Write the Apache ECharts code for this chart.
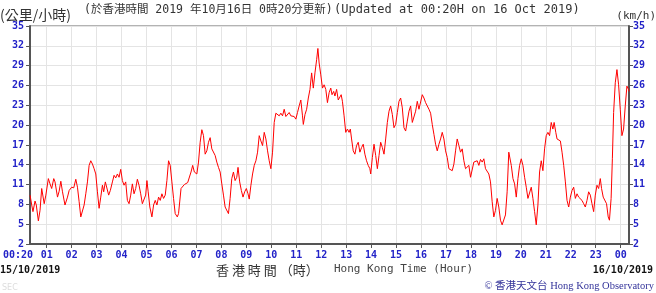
<!DOCTYPE html>
<html>
<head>
<meta charset="utf-8">
<script src="https://cdn.jsdelivr.net/npm/echarts@6/dist/echarts.min.js"></script>
<style>
html,body{margin:0;padding:0;background:#fff;}
#chart{width:656px;height:293px;}
</style>
</head>
<body>
<div id="chart"></div>
<script>
// minutes since 00:00 on 15/10/2019
var timeMin = [20,24,27,32,35,40,44,48,51,54,58,64,68,72,77,80,86,90,94,98,104,110,114,120,125,130,134,138,142,146,150,154,158,162,166,170,174,178,182,186,190,194,197,201,205,209,213,218,222,226,230,234,238,242,246,250,254,258,262,266,270,274,278,282,286,290,294,298,301,304,308,313,317,321,325,329,333,337,341,345,349,353,357,361,365,369,374,377,380,383,387,391,395,399,403,407,411,415,421,425,429,433,437,441,445,449,453,457,461,465,469,473,477,481,485,489,493,497,501,505,509,513,517,520,524,528,532,536,540,544,547,551,555,559,563,567,571,575,579,583,587,591,595,599,603,607,611,615,619,623,627,631,635,639,643,647,651,655,659,663,667,671,675,677,681,685,689,693,697,701,705,709,712,715,719,723,727,731,735,739,743,746,750,753,757,761,765,768,771,775,779,783,787,790,793,797,801,805,809,813,817,821,825,829,833,837,839,843,847,851,855,859,863,867,871,875,879,883,887,891,895,899,903,907,911,915,919,923,927,931,935,939,943,947,951,955,959,963,967,971,975,979,983,987,991,995,999,1003,1007,1011,1015,1019,1023,1027,1031,1035,1039,1043,1047,1051,1055,1059,1063,1067,1071,1075,1079,1083,1087,1091,1095,1099,1103,1107,1111,1115,1119,1123,1127,1131,1135,1139,1143,1147,1151,1155,1159,1163,1167,1171,1173,1177,1181,1185,1189,1193,1197,1201,1205,1209,1213,1217,1221,1225,1229,1233,1237,1241,1245,1249,1253,1257,1261,1265,1269,1273,1277,1280,1284,1287,1291,1295,1299,1303,1307,1311,1315,1319,1323,1327,1331,1335,1339,1343,1347,1351,1355,1359,1363,1367,1371,1375,1379,1383,1387,1391,1394,1398,1402,1406,1410,1413,1417,1420,1423,1427,1431,1435,1439,1443,1447,1451,1455,1459,1460];
// wind speed (km/h)
var windKmh = [9.4,7.9,6.9,8.5,7.9,5.5,7.1,10.4,10.1,8.1,9.4,11.9,11.1,10.4,11.9,11.4,9.1,10.0,11.5,9.9,7.9,9.1,10.1,10.6,10.5,11.8,10.6,8.4,6.1,5.9,7.9,9.6,11.4,13.9,14.6,14.1,13.4,12.6,9.9,7.4,9.1,10.9,9.9,11.4,11.6,9.4,10.1,11.4,12.4,12.0,12.6,12.1,13.3,11.6,10.9,11.4,8.6,8.1,9.4,11.1,9.6,10.4,11.8,10.9,9.6,8.1,7.9,9.4,11.6,9.9,7.6,6.1,7.9,8.6,7.9,9.1,8.6,9.6,8.9,9.4,11.6,14.6,13.9,11.4,8.9,6.6,6.1,6.6,8.5,10.4,10.6,11.0,10.8,11.3,11.6,12.9,13.9,12.9,12.6,14.4,17.4,19.3,18.4,15.6,16.1,17.4,18.1,16.4,16.1,15.4,14.4,13.6,12.9,11.1,9.4,7.6,7.4,6.6,8.9,11.9,12.9,11.6,12.1,13.6,11.4,10.1,9.1,9.9,10.4,9.6,8.8,10.9,12.6,13.9,14.6,15.9,18.4,17.6,16.9,18.9,17.9,16.1,14.6,13.4,15.9,20.4,21.8,22.1,21.4,21.8,21.4,22.4,21.3,21.6,21.9,21.4,21.1,21.3,20.9,21.9,22.9,23.8,21.4,20.1,21.6,22.4,24.1,25.4,27.9,25.6,27.9,29.9,31.6,29.4,27.6,25.6,26.1,25.4,23.4,24.9,25.6,24.6,25.1,24.4,25.4,23.8,24.1,24.6,23.6,21.4,18.9,19.4,18.9,19.4,17.9,16.1,15.6,16.9,17.4,15.9,16.6,17.1,15.6,14.6,13.9,13.4,12.6,15.1,17.1,15.4,13.4,15.4,17.4,16.6,15.6,17.9,20.4,22.1,22.9,21.6,19.6,20.1,21.9,23.6,24.1,22.6,19.6,19.1,20.6,22.1,22.9,20.4,20.1,22.1,23.6,22.4,23.5,24.6,24.1,23.4,23.1,22.4,21.8,20.1,18.6,17.1,16.1,17.1,17.9,18.9,17.9,16.1,15.1,13.4,13.6,13.1,14.1,16.1,17.9,16.9,15.9,16.4,14.6,13.4,13.6,13.9,12.1,12.4,14.4,14.6,14.6,13.9,14.8,14.4,14.9,13.4,13.1,12.6,11.4,8.4,6.1,7.1,8.9,7.6,5.6,4.9,4.9,6.4,9.9,15.9,16.1,13.9,11.9,11.1,9.1,11.9,13.9,14.9,13.9,12.1,10.6,8.9,9.1,10.6,8.9,6.9,4.9,7.9,12.9,14.6,13.1,16.4,18.4,18.9,18.4,20.4,19.4,20.4,18.9,17.9,18.1,17.6,15.9,13.9,11.4,8.6,7.6,9.1,10.1,10.6,8.9,9.6,9.1,9.4,8.6,8.1,7.6,8.6,9.9,9.4,8.1,6.9,9.4,10.9,10.4,11.9,10.4,9.1,8.9,8.1,6.1,5.6,8.9,14.9,21.9,26.4,28.4,26.1,22.4,18.4,19.4,22.9,25.9,25.4,25.1];
// hourly tick positions (minutes) and y ticks
var hourTicks = [60,120,180,240,300,360,420,480,540,600,660,720,780,840,900,960,1020,1080,1140,1200,1260,1320,1380,1440];
var xLabelValues = [20].concat(hourTicks);
var yMin = 2, yMax = 35, yStep = 3;

var seriesData = timeMin.map(function (t, i) { return [t, windKmh[i]]; });

var blue = '#2323c8';
var monoFont = "'DejaVu Sans Mono', monospace";

var chart = echarts.init(document.getElementById('chart'), null, {renderer: 'canvas'});

function yAxisCfg(pos, split) {
  return {
    type: 'value', position: pos, min: yMin, max: yMax, interval: yStep,
    axisLine: {show: true, lineStyle: {color: '#555', width: 2}},
    axisTick: {show: true, length: 4, lineStyle: {color: '#555'}},
    axisLabel: {color: blue, fontFamily: monoFont, fontWeight: 'bold', fontSize: 10, margin: pos === 'left' ? 6 : 4},
    splitLine: {show: split, lineStyle: {color: '#e4e4e4', width: 1}}
  };
}

chart.setOption({
  animation: false,
  backgroundColor: '#fff',
  grid: {left: 28, right: 27, top: 26, bottom: 49, show: true, borderColor: '#666', borderWidth: 1, backgroundColor: 'transparent'},
  xAxis: {
    type: 'value', min: 20, max: 1460,
    axisLine: {show: true, onZero: false, lineStyle: {color: '#555', width: 2}},
    axisTick: {show: true, customValues: hourTicks, length: 4, lineStyle: {color: '#555'}},
    axisLabel: {
      customValues: xLabelValues, color: blue, fontFamily: monoFont, fontWeight: 'bold', fontSize: 10, margin: 6,
      formatter: function (v) {
        if (v === 20) return '{s|00:20}';
        var h = Math.round(v / 60) % 24;
        return (h < 10 ? '0' : '') + h;
      },
      rich: {s: {color: blue, fontFamily: monoFont, fontWeight: 'bold', fontSize: 10, padding: [0, 24, 0, 0]}}
    },
    splitLine: {show: true, lineStyle: {color: '#e4e4e4', width: 1}}
  },
  yAxis: [yAxisCfg('left', true), yAxisCfg('right', false)],
  series: [{
    type: 'line', data: seriesData, showSymbol: false, symbol: 'none',
    lineStyle: {color: '#ff0000', width: 1}, xAxisIndex: 0, yAxisIndex: 0
  }],
  graphic: [
    {type: 'text', x: 0, y: 15, style: {text: '(公里/小時)', font: "14px 'Noto Sans CJK TC'", fill: '#333', verticalAlign: 'middle'}},
    {type: 'text', x: 84, y: 10, style: {text: '(於香港時間 2019 年10月16日 0時20分更新)', font: "11.5px 'DejaVu Sans Mono', 'Noto Sans CJK TC'", fill: '#333', verticalAlign: 'middle'}},
    {type: 'text', x: 334, y: 10, style: {text: '(Updated at 00:20H on 16 Oct 2019)', font: "12px 'DejaVu Sans Mono'", fill: '#333', verticalAlign: 'middle'}},
    {type: 'text', x: 656, y: 16, style: {text: '(km/h)', font: "11px 'DejaVu Sans Mono'", fill: '#333', align: 'right', verticalAlign: 'middle'}},
    {type: 'text', x: 0, y: 270, style: {text: '15/10/2019', font: "bold 10px 'DejaVu Sans Mono'", fill: '#111', verticalAlign: 'middle'}},
    {type: 'text', x: 653, y: 270, style: {text: '16/10/2019', font: "bold 10px 'DejaVu Sans Mono'", fill: '#111', align: 'right', verticalAlign: 'middle'}},
    {type: 'text', x: 216, y: 270, style: {text: '香 港 時 間 （時）', font: "13px 'Noto Sans CJK TC'", fill: '#333', verticalAlign: 'middle'}},
    {type: 'text', x: 334, y: 269, style: {text: 'Hong Kong Time (Hour)', font: "11px 'DejaVu Sans Mono'", fill: '#444', verticalAlign: 'middle'}},
    {type: 'text', x: 654, y: 286, style: {text: '© 香港天文台 Hong Kong Observatory', font: "10.5px 'Liberation Serif', 'Noto Sans CJK TC'", fill: '#33339a', align: 'right', verticalAlign: 'middle'}},
    {type: 'text', x: 2, y: 288, style: {text: 'SEC', font: "8px 'DejaVu Sans'", fill: '#dddddd', verticalAlign: 'middle'}}
  ]
});
</script>
</body>
</html>
